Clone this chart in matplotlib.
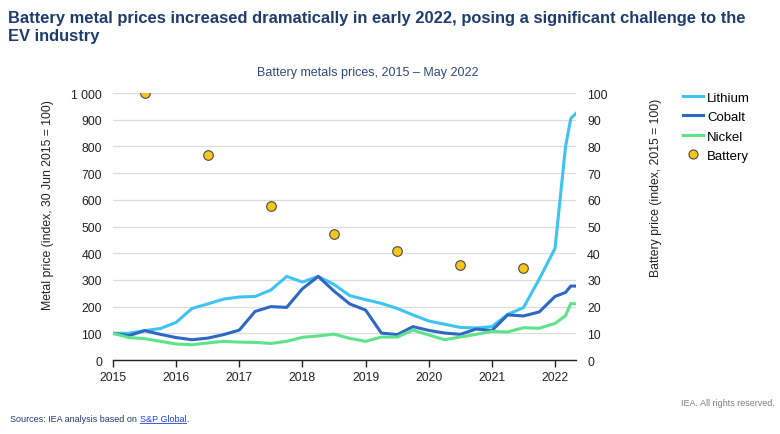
import matplotlib.pyplot as plt
from matplotlib.lines import Line2D
import numpy as np

plt.rcParams['font.family'] = ['Liberation Sans', 'DejaVu Sans']

# quarterly points 2015-2021, then monthly-ish points in early 2022
dates = [2015.0, 2015.25, 2015.5, 2015.75, 2016.0, 2016.25, 2016.5, 2016.75,
         2017.0, 2017.25, 2017.5, 2017.75, 2018.0, 2018.25, 2018.5, 2018.75,
         2019.0, 2019.25, 2019.5, 2019.75, 2020.0, 2020.25, 2020.5, 2020.75,
         2021.0, 2021.25, 2021.5, 2021.75, 2022.0, 2022.167, 2022.25, 2022.333]
lithium = [100, 100, 110, 118, 141, 193, 210, 228,
           236, 238, 262, 313, 292, 313, 283, 241,
           226, 212, 193, 169, 146, 134, 122, 120,
           125, 171, 196, 303, 418, 800, 905, 924]
cobalt = [100, 91, 110, 96, 84, 76, 82, 95,
          112, 182, 200, 197, 267, 313, 258, 210,
          187, 101, 95, 125, 111, 101, 96, 116,
          110, 169, 165, 180, 238, 253, 277, 277]
nickel = [100, 84, 80, 70, 60, 57, 64, 70,
          67, 66, 62, 70, 85, 90, 97, 81,
          70, 86, 86, 112, 94, 76, 86, 96,
          107, 105, 121, 119, 137, 166, 212, 210]

battery_dates = [2015.5, 2016.5, 2017.5, 2018.5, 2019.5, 2020.5, 2021.5]
battery = [100, 76.8, 57.6, 47.2, 40.8, 35.7, 34.3]

years = np.arange(2015, 2023)

c_li = '#3fc3f1'
c_co = '#2d68c4'
c_ni = '#5ee28a'
c_bat = '#f7c51c'
navy = '#1f3c6e'
fs = 8.8

fig = plt.figure(figsize=(7.8, 4.35), dpi=100)
ax = fig.add_axes([0.1449, 0.1701, 0.5936, 0.6138])
ax2 = ax.twinx()

ax.plot(dates, lithium, color=c_li, lw=2.2, zorder=3)
ax.plot(dates, cobalt, color=c_co, lw=2.2, zorder=3)
ax.plot(dates, nickel, color=c_ni, lw=2.2, zorder=3)
ax2.scatter(battery_dates, battery, s=48, color=c_bat, edgecolor='#4a4a4a',
            linewidth=0.8, zorder=4)

ax.set_xlim(2015, 2022.333)
ax.set_ylim(0, 1000)
ax2.set_ylim(0, 100)
ax.set_yticks(np.arange(0, 1001, 100))
ax.set_yticklabels(['0' if v == 0 else ('1 000' if v == 1000 else str(v))
                    for v in range(0, 1001, 100)])
ax2.set_yticks(np.arange(0, 101, 10))
ax.set_xticks(years)
ax.set_xticklabels([str(y) for y in years])

ax.grid(axis='y', color='#dcdcdc', lw=0.9, zorder=0)
ax.set_axisbelow(True)
for a in (ax, ax2):
    for s in ['top', 'right', 'left']:
        a.spines[s].set_visible(False)
    a.spines['bottom'].set_visible(a is ax)
ax.spines['bottom'].set_color('#222222')
ax.spines['bottom'].set_linewidth(1.0)
ax.tick_params(axis='y', length=0, labelsize=fs, pad=8, colors='#222222')
ax2.tick_params(axis='y', length=0, labelsize=fs, pad=8, colors='#222222')
ax.tick_params(axis='x', length=5, width=1.0, labelsize=fs, colors='#222222', pad=3)

ax.set_ylabel('Metal price (index, 30 Jun 2015 = 100)', fontsize=fs,
              color='#222222')
ax2.set_ylabel('Battery price (index, 2015 = 100)', fontsize=fs,
               color='#222222')
# label centres sit above the plot centre in the reference
ax.yaxis.set_label_coords(-0.127, 0.585)
ax2.yaxis.set_label_coords(1.16, 0.65)

handles = [Line2D([], [], color=c_li, lw=2.2),
           Line2D([], [], color=c_co, lw=2.2),
           Line2D([], [], color=c_ni, lw=2.2),
           Line2D([], [], marker='o', ls='', markersize=6.5, markerfacecolor=c_bat,
                  markeredgecolor='#4a4a4a', markeredgewidth=0.8)]
fig.legend(handles, ['Lithium', 'Cobalt', 'Nickel', 'Battery'],
           loc='upper left', bbox_to_anchor=(0.861, 0.815), frameon=False,
           fontsize=9.5, handlelength=1.5, handletextpad=0.3, labelspacing=0.55)

fig.text(0.010, 0.975, 'Battery metal prices increased dramatically in early 2022, posing a significant challenge to the\nEV industry',
         ha='left', va='top', fontsize=11.9, fontweight='bold', color=navy,
         linespacing=1.25)
fig.text(0.471, 0.833, 'Battery metals prices, 2015 \u2013 May 2022', ha='center',
         va='center', fontsize=9, color='#2e4a7d')

fig.text(0.993, 0.072, 'IEA. All rights reserved.', ha='right', va='center',
         fontsize=6.5, color='#7f7f7f')
t1 = fig.text(0.013, 0.035, 'Sources: IEA analysis based on ', ha='left', va='center',
              fontsize=6.5, color='#1f3c6e')
fig.canvas.draw()
bb = t1.get_window_extent()
x_end = bb.x1 / fig.bbox.width
t2 = fig.text(x_end, 0.035, 'S&P Global', ha='left', va='center', fontsize=6.5,
              color='#1a44d8')
fig.canvas.draw()
bb2 = t2.get_window_extent()
fig.add_artist(Line2D([bb2.x0 / fig.bbox.width, bb2.x1 / fig.bbox.width],
                      [bb2.y0 / fig.bbox.height + 0.001] * 2, color='#1a44d8', lw=0.6))
fig.text(bb2.x1 / fig.bbox.width, 0.035, '.', ha='left', va='center', fontsize=6.5,
         color='#1f3c6e')

fig.savefig('out.png', dpi=100)
